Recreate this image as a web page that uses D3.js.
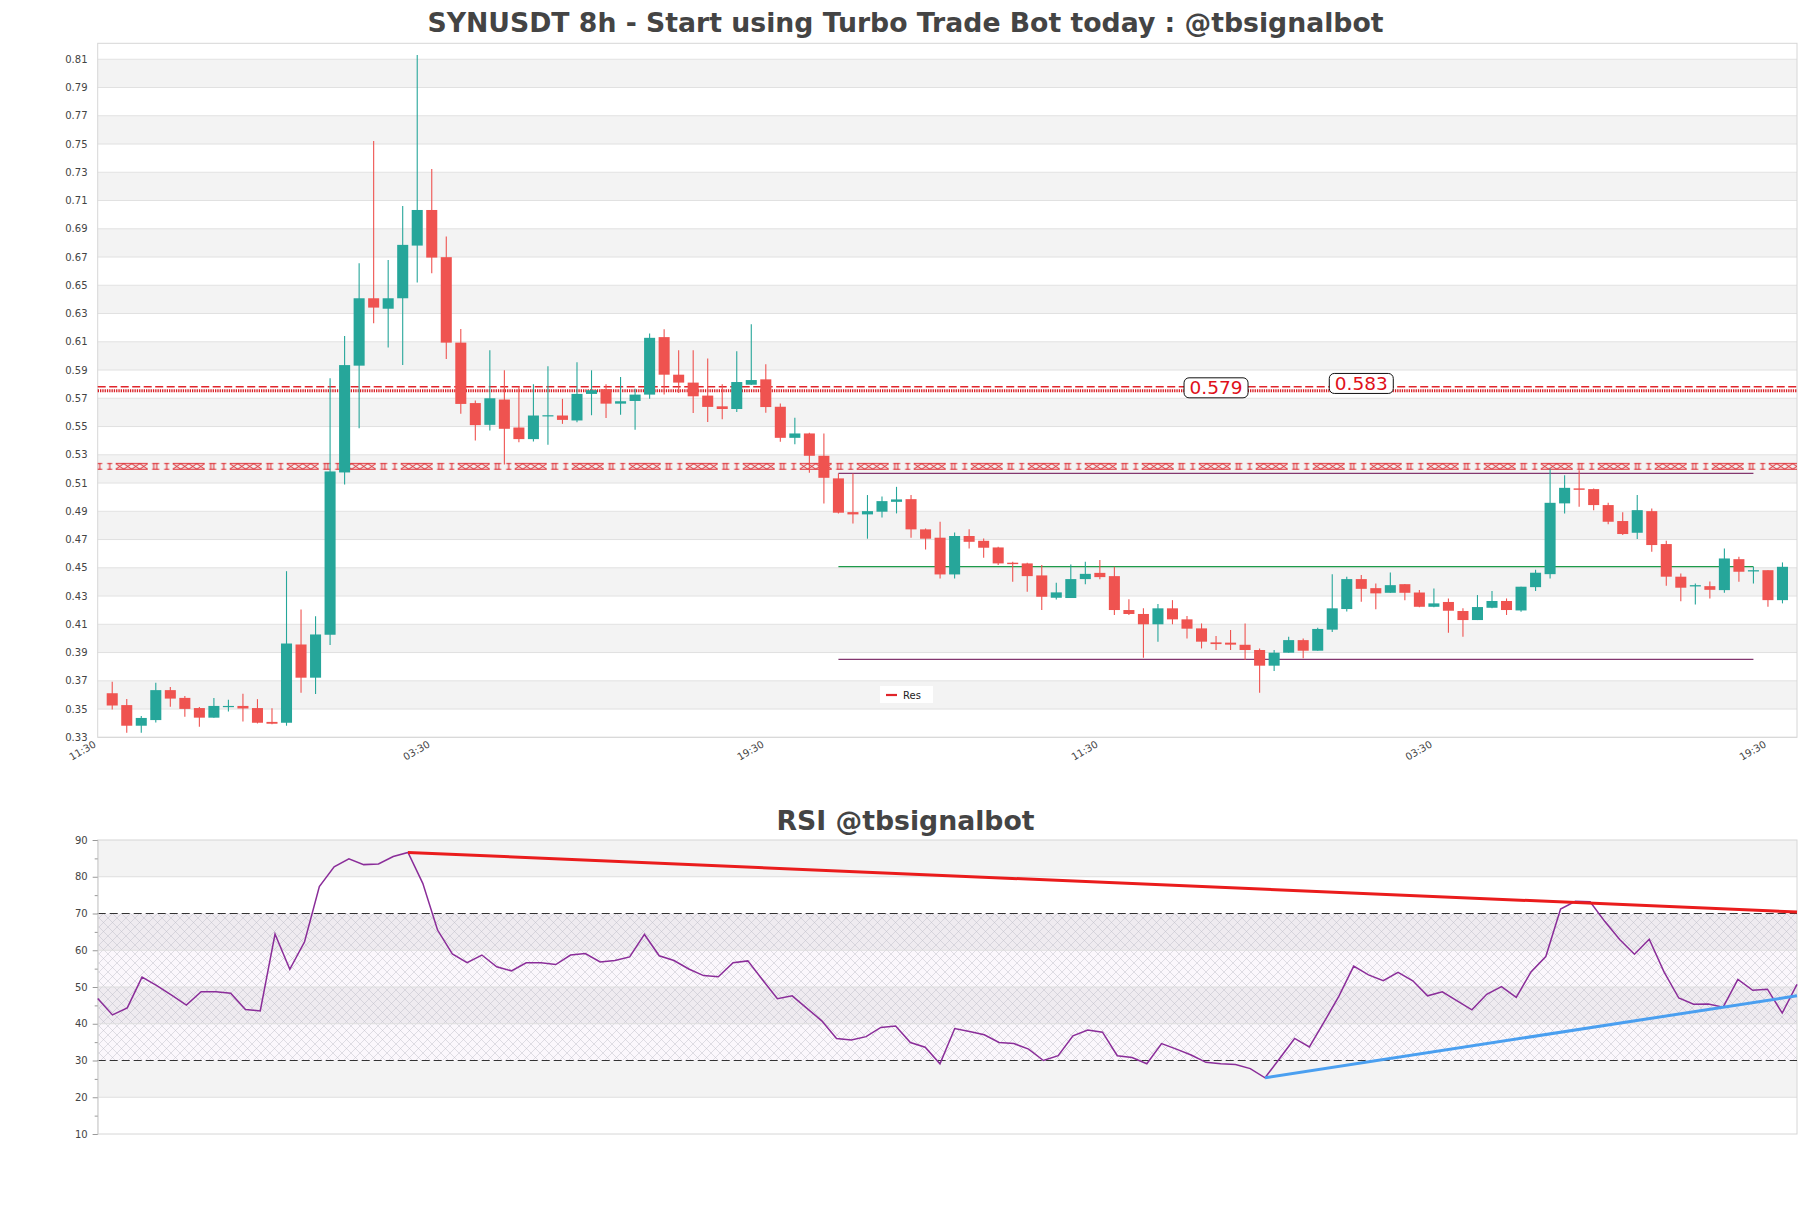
<!DOCTYPE html>
<html><head><meta charset="utf-8">
<script src="https://cdn.jsdelivr.net/npm/d3@7"></script>
<style>
body{margin:0;background:#fff;}
svg{display:block;font-family:"DejaVu Sans",sans-serif;}
</style>
</head><body>
<svg id="chart" width="1811" height="1208"></svg>
<script>
// ---------------- DATA ----------------
const openP  = [0.3612,0.3528,0.3382,0.3422,0.3634,0.3579,0.3507,0.3439,0.3517,0.3522,0.3507,0.3409,0.3403,0.3957,0.3722,0.4026,0.5175,0.5931,0.6408,0.6334,
0.6408,0.6781,0.7033,0.6699,0.6094,0.5666,0.5512,0.5691,0.5493,0.5411,0.5576,0.5578,0.5543,0.5731,0.5764,0.5662,0.5681,0.5726,0.6133,0.5867,
0.5811,0.5719,0.5643,0.5624,0.5796,0.5834,0.5640,0.5420,0.5451,0.5293,0.5133,0.4894,0.4878,0.4897,0.4967,0.4986,0.4772,0.4713,0.4453,0.4725,
0.4691,0.4644,0.4536,0.4531,0.4446,0.4288,0.4286,0.4420,0.4464,0.4441,0.4201,0.4173,0.4100,0.4213,0.4135,0.4071,0.3972,0.3970,0.3955,0.3918,
0.3807,0.3899,0.3988,0.3913,0.4062,0.4208,0.4420,0.4356,0.4323,0.4384,0.4325,0.4224,0.4258,0.4194,0.4130,0.4217,0.4265,0.4198,0.4363,0.4455,
0.4956,0.5062,0.5057,0.4944,0.4831,0.4748,0.4901,0.4668,0.4437,0.4368,0.4370,0.4342,0.4561,0.4474,0.4483,0.4271];
const highP  = [0.3693,0.3571,0.3451,0.3686,0.3656,0.3592,0.3515,0.3578,0.3565,0.3608,0.3570,0.3506,0.4476,0.4205,0.4157,0.5842,0.6141,0.6656,0.7522,0.6679,
0.7062,0.8131,0.7324,0.6845,0.6191,0.5685,0.6040,0.5898,0.5781,0.5799,0.5926,0.5696,0.5955,0.5898,0.5799,0.5851,0.5768,0.6158,0.6189,0.6040,
0.6040,0.5981,0.5799,0.6033,0.6224,0.5941,0.5663,0.5562,0.5456,0.5451,0.5168,0.5168,0.5015,0.5005,0.5073,0.5015,0.4779,0.4826,0.4750,0.4772,
0.4708,0.4649,0.4543,0.4536,0.4519,0.4394,0.4524,0.4543,0.4555,0.4507,0.4278,0.4213,0.4243,0.4271,0.4158,0.4106,0.4017,0.4059,0.4106,0.3929,
0.3918,0.4012,0.4000,0.4076,0.4455,0.4437,0.4449,0.4389,0.4467,0.4385,0.4342,0.4354,0.4283,0.4213,0.4307,0.4335,0.4283,0.4366,0.4486,0.5203,
0.5156,0.5191,0.5062,0.4960,0.4894,0.5015,0.4920,0.4692,0.4460,0.4389,0.4403,0.4637,0.4578,0.4507,0.4483,0.4538];
const lowP   = [0.3497,0.3333,0.3333,0.3404,0.3517,0.3446,0.3375,0.3439,0.3482,0.3411,0.3398,0.3392,0.3382,0.3616,0.3606,0.3953,0.5090,0.5488,0.6231,0.6059,
0.5936,0.6519,0.6585,0.5978,0.5590,0.5401,0.5472,0.5232,0.5389,0.5394,0.5371,0.5519,0.5531,0.5580,0.5561,0.5584,0.5478,0.5696,0.5726,0.5738,
0.5596,0.5532,0.5551,0.5603,0.5794,0.5598,0.5392,0.5375,0.5173,0.4956,0.4885,0.4814,0.4706,0.4856,0.4885,0.4713,0.4630,0.4425,0.4425,0.4637,
0.4571,0.4519,0.4401,0.4330,0.4201,0.4276,0.4286,0.4383,0.4418,0.4166,0.4166,0.3864,0.3977,0.4100,0.4000,0.3929,0.3918,0.3918,0.3847,0.3616,
0.3769,0.3899,0.3859,0.3913,0.4045,0.4191,0.4260,0.4206,0.4323,0.4271,0.4220,0.4220,0.4040,0.4012,0.4130,0.4213,0.4166,0.4189,0.4335,0.4425,
0.4885,0.4932,0.4908,0.4809,0.4732,0.4703,0.4614,0.4373,0.4264,0.4241,0.4283,0.4323,0.4401,0.4389,0.4224,0.4248];
const closeP = [0.3525,0.3382,0.3437,0.3634,0.3574,0.3501,0.3439,0.3522,0.3522,0.3504,0.3403,0.3396,0.3964,0.3722,0.4028,0.5182,0.5935,0.6408,0.6342,0.6408,
0.6786,0.7033,0.6696,0.6094,0.5660,0.5510,0.5700,0.5484,0.5411,0.5578,0.5580,0.5547,0.5731,0.5757,0.5662,0.5679,0.5726,0.6128,0.5867,0.5811,
0.5714,0.5639,0.5624,0.5815,0.5829,0.5638,0.5420,0.5451,0.5293,0.5137,0.4890,0.4878,0.4901,0.4972,0.4984,0.4772,0.4706,0.4453,0.4725,0.4684,
0.4642,0.4531,0.4526,0.4441,0.4295,0.4326,0.4420,0.4457,0.4434,0.4201,0.4173,0.4100,0.4213,0.4135,0.4069,0.3977,0.3960,0.3956,0.3918,0.3807,
0.3899,0.3988,0.3913,0.4067,0.4213,0.4420,0.4351,0.4319,0.4377,0.4323,0.4224,0.4248,0.4196,0.4130,0.4222,0.4265,0.4201,0.4366,0.4465,0.4960,
0.5066,0.5052,0.4944,0.4826,0.4739,0.4908,0.4661,0.4437,0.4359,0.4377,0.4344,0.4566,0.4472,0.4483,0.4271,0.4507];

const rsiValues = [46.9,42.4,44.3,52.7,50.4,47.8,45.1,48.7,48.7,48.3,43.9,43.5,64.4,54.8,62.3,77.3,82.7,84.9,83.3,83.5,
85.5,86.6,78.2,65.5,59.0,56.6,58.7,55.5,54.4,56.6,56.6,56.1,58.7,59.1,56.8,57.2,58.2,64.3,58.5,57.2,
54.9,53.1,52.8,56.6,57.1,51.9,46.8,47.6,44.2,40.8,36.0,35.6,36.5,39.0,39.4,34.9,33.6,29.1,38.7,37.9,
37.0,34.9,34.6,33.1,30.0,31.3,36.7,38.3,37.7,31.3,30.8,29.1,34.6,33.1,31.5,29.5,29.1,28.9,27.8,25.3,
30.6,36.0,33.7,40.5,47.5,55.7,53.3,51.7,54.0,51.7,47.6,48.7,46.2,43.8,48.0,50.1,47.2,54.1,58.3,71.2,
73.3,73.2,67.8,62.9,58.9,63.0,54.1,47.0,45.3,45.4,44.5,52.1,49.1,49.4,42.9,50.7];

const timeTickLabels = ["11:30","03:30","19:30","11:30","03:30","19:30"];
const timeTickIndex  = [0,23,46,69,92,115];
const priceTicks = [0.33,0.35,0.37,0.39,0.41,0.43,0.45,0.47,0.49,0.51,0.53,0.55,0.57,0.59,0.61,0.63,0.65,0.67,0.69,0.71,0.73,0.75,0.77,0.79,0.81];
const rsiTicks = [10,20,30,40,50,60,70,80,90];

const resDashedLevel = 0.5782;
const resDottedLevel = 0.5753;
const resPatternLevel = 0.5218;
const rangeLevels = [0.5168, 0.4508, 0.3852];
const rangeKinds  = ["purple","green","purple"];
const rangeStartIdx = 51, rangeEndIdx = 114;
const priceLabelTexts = ["0.579","0.583"];
const priceLabelIdx   = [77, 87];
const priceLabelVals  = [0.5774, 0.5805];

const rsiResTrend = [[21, 86.6],[115, 70.4]];
const rsiSupTrend = [[79, 25.3],[115, 47.6]];
const rsiUpper = 70, rsiLower = 30;

// ---------------- LAYOUT ----------------
const svg = d3.select("#chart");
const L = 97.7, R = 1797;
const mainTop = 43.3, mainBot = 737.3;
const rsiTop = 840, rsiBot = 1134;

const x = d3.scaleLinear().domain([0, 117]).range([L, R]);
const y = d3.scaleLinear().domain([0.33, 0.8213]).range([mainBot, mainTop]);
const xr = d3.scaleLinear().domain([0, 115]).range([L, R]);
const yr = d3.scaleLinear().domain([10, 90]).range([rsiBot, rsiTop]);

const GREEN = "#26a69a", RED = "#ef5350";

const defs = svg.append("defs");
const hp = defs.append("pattern").attr("id","hatch").attr("patternUnits","userSpaceOnUse")
  .attr("width",9).attr("height",9);
hp.append("path").attr("d","M0,0L9,9M9,0L0,9").attr("stroke","#b9b9c4").attr("stroke-width",0.45).attr("fill","none");
const rp = defs.append("pattern").attr("id","respat").attr("patternUnits","userSpaceOnUse")
  .attr("width",57).attr("height",7).attr("x",L).attr("y",y(resPatternLevel)-3.5);
let pd = "";
[2,12].forEach(c=>{ pd += `M${c-2.5},0.7H${c+2.5}M${c},0.7V6.3M${c-2.5},6.3H${c+2.5}`; });
pd += "M18,0.7H50M18,6.3H50";
for(let k=0;k<4;k++){ const a=18+k*8, b=a+8; pd += `M${a},0.7L${b},6.3M${a},6.3L${b},0.7`; }
pd += "M54.5,0.7H57M56,0.7V6.3M54.5,6.3H57";
rp.append("path").attr("d",pd).attr("stroke","#dc1f26").attr("stroke-width",1.0).attr("fill","none");

// ---------------- TITLES ----------------
svg.append("text").attr("x",905.5).attr("y",31.5).attr("text-anchor","middle")
  .attr("font-size",26.7).attr("font-weight","bold").attr("fill","#444")
  .text("SYNUSDT 8h - Start using Turbo Trade Bot today : @tbsignalbot");
svg.append("text").attr("x",905.5).attr("y",829.5).attr("text-anchor","middle")
  .attr("font-size",26.7).attr("font-weight","bold").attr("fill","#444")
  .text("RSI @tbsignalbot");

// ---------------- MAIN PANEL ----------------
const main = svg.append("g");
const bandStarts = d3.range(0.33, 0.8213, 0.02);
main.selectAll("rect.band").data(bandStarts).join("rect")
  .attr("x",L).attr("width",R-L)
  .attr("y",d=>y(Math.min(d+0.02,0.8213))).attr("height",d=>y(d)-y(Math.min(d+0.02,0.8213)))
  .attr("fill",(d,i)=> i%2===1 ? "#f3f3f3" : "#ffffff");
main.selectAll("line.grid").data(priceTicks).join("line")
  .attr("x1",L).attr("x2",R).attr("y1",d=>y(d)).attr("y2",d=>y(d))
  .attr("stroke","#e1e1e1").attr("stroke-width",1);
main.append("rect").attr("x",L).attr("y",mainTop).attr("width",R-L).attr("height",mainBot-mainTop)
  .attr("fill","none").attr("stroke","#d6d6d6");

main.selectAll("text.yt").data(priceTicks).join("text")
  .attr("x",87.5).attr("y",d=>y(d)+3.6).attr("text-anchor","end")
  .attr("font-size",10).attr("fill","#444").text(d=>d.toFixed(2));

main.selectAll("text.xt").data(timeTickIndex).join("text")
  .attr("transform",d=>`translate(${x(d)-1},${mainBot+9}) rotate(-30)`)
  .attr("text-anchor","end").attr("font-size",10).attr("fill","#444")
  .text((d,i)=>timeTickLabels[i]);

// resistance lines
main.append("line").attr("x1",L).attr("x2",R).attr("y1",y(resDashedLevel)).attr("y2",y(resDashedLevel))
  .attr("stroke","#e0242a").attr("stroke-width",1.5).attr("stroke-dasharray","8,3.5");
main.append("line").attr("x1",L).attr("x2",R).attr("y1",y(resDottedLevel)).attr("y2",y(resDottedLevel))
  .attr("stroke","#d81e24").attr("stroke-width",3).attr("stroke-dasharray","1.3,1");
main.append("rect").attr("x",L).attr("width",R-L).attr("y",y(resPatternLevel)-3.5).attr("height",7)
  .attr("fill","url(#respat)");

// range lines
main.selectAll("line.rng").data(rangeLevels).join("line")
  .attr("x1",x(rangeStartIdx)).attr("x2",x(rangeEndIdx))
  .attr("y1",d=>y(d)).attr("y2",d=>y(d))
  .attr("stroke",(d,i)=>rangeKinds[i]==="green" ? "#1e9a4a" : "#83376f")
  .attr("stroke-width",1.2);

// candles
const idx = d3.range(openP.length);
const bw = (x(1)-x(0))*0.76;
const cg = main.append("g");
cg.selectAll("line.wick").data(idx).join("line")
  .attr("x1",i=>x(i+1)).attr("x2",i=>x(i+1))
  .attr("y1",i=>y(highP[i])).attr("y2",i=>y(lowP[i]))
  .attr("stroke",i=>closeP[i]>=openP[i]?GREEN:RED).attr("stroke-width",1.1);
cg.selectAll("rect.body").data(idx).join("rect")
  .attr("x",i=>x(i+1)-bw/2).attr("width",bw)
  .attr("y",i=>y(Math.max(openP[i],closeP[i])))
  .attr("height",i=>Math.max(1.2, Math.abs(y(openP[i])-y(closeP[i]))))
  .attr("fill",i=>closeP[i]>=openP[i]?GREEN:RED);

// price labels
priceLabelTexts.forEach((t,k)=>{
  const cx = x(priceLabelIdx[k]), cy = y(priceLabelVals[k]);
  main.append("rect").attr("x",cx-32).attr("y",cy-10).attr("width",64).attr("height",20)
    .attr("rx",5).attr("fill","#fff").attr("stroke","#111").attr("stroke-width",1);
  main.append("text").attr("x",cx).attr("y",cy+6.5).attr("text-anchor","middle")
    .attr("font-size",18.5).attr("fill","#e0101a").text(t);
});

// legend
const lg = main.append("g").attr("transform","translate(880,686)");
lg.append("rect").attr("width",53).attr("height",17).attr("fill","#fff");
lg.append("line").attr("x1",6).attr("x2",17).attr("y1",9).attr("y2",9).attr("stroke","#e0242a").attr("stroke-width",2.2);
lg.append("text").attr("x",23).attr("y",12.5).attr("font-size",10).attr("fill","#222").text("Res");

// ---------------- RSI PANEL ----------------
const rg = svg.append("g");
const rsiBands = [10,20,30,40,50,60,70,80];
rg.selectAll("rect.rb").data(rsiBands).join("rect")
  .attr("x",L).attr("width",R-L).attr("y",d=>yr(d+10)).attr("height",d=>yr(d)-yr(d+10))
  .attr("fill",d=> (d/10)%2===0 ? "#f3f3f3" : "#ffffff");
rg.append("rect").attr("x",L).attr("width",R-L).attr("y",yr(rsiUpper)).attr("height",yr(rsiLower)-yr(rsiUpper))
  .attr("fill","rgba(190,120,210,0.06)");
rg.append("rect").attr("x",L).attr("width",R-L).attr("y",yr(rsiUpper)).attr("height",yr(rsiLower)-yr(rsiUpper))
  .attr("fill","url(#hatch)");
rg.selectAll("line.rgrid").data([20,40,50,60,80]).join("line")
  .attr("x1",L).attr("x2",R).attr("y1",d=>yr(d)).attr("y2",d=>yr(d))
  .attr("stroke","#dedede");
rg.append("rect").attr("x",L).attr("y",rsiTop).attr("width",R-L).attr("height",rsiBot-rsiTop)
  .attr("fill","none").attr("stroke","#d6d6d6");
rg.selectAll("line.lvl").data([rsiUpper,rsiLower]).join("line")
  .attr("x1",L).attr("x2",R).attr("y1",d=>yr(d)).attr("y2",d=>yr(d))
  .attr("stroke","#333").attr("stroke-width",1.2).attr("stroke-dasharray","8,4");

const ax = d3.axisLeft(yr).tickValues(d3.range(10,91,5)).tickSize(5)
  .tickFormat(d=> d%10===0 ? d : "");
const axg = rg.append("g").attr("transform",`translate(${L},0)`).call(ax);
axg.select(".domain").attr("stroke","#d6d6d6");
axg.selectAll(".tick line").attr("stroke","#999").attr("x2",(d)=> 0).attr("x1",d=> d%10===0 ? -5 : -3);
axg.selectAll(".tick text").attr("font-size",10).attr("fill","#444").attr("font-family","DejaVu Sans").attr("x",-10);

const line = d3.line().x((d,i)=>xr(i)).y(d=>yr(d));
rg.append("path").datum(rsiValues).attr("d",line).attr("fill","none")
  .attr("stroke","#8a2d99").attr("stroke-width",1.5);

const tl = d3.line().x(d=>xr(d[0])).y(d=>yr(d[1]));
rg.append("path").datum(rsiResTrend).attr("d",tl).attr("stroke","#ea1c1c").attr("stroke-width",3).attr("fill","none");
rg.append("path").datum(rsiSupTrend).attr("d",tl).attr("stroke","#4a9ff0").attr("stroke-width",3).attr("fill","none");
</script>
</body></html>
